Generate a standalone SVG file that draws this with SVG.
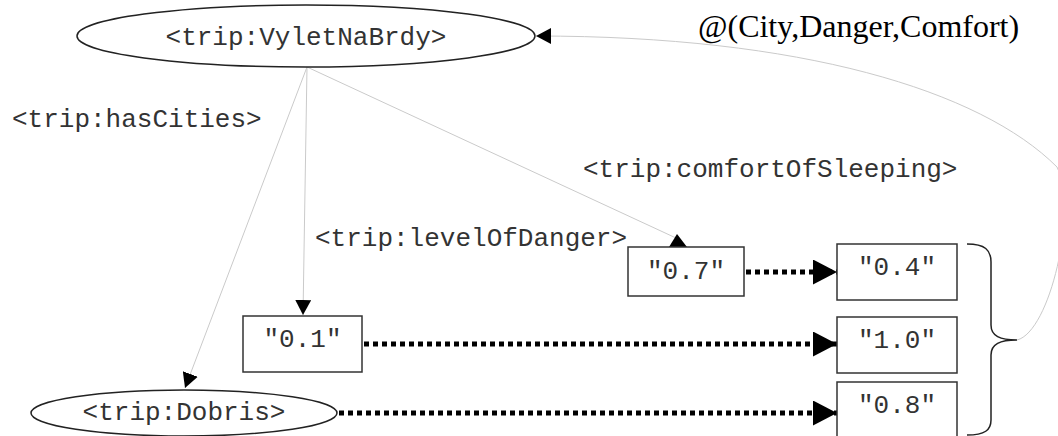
<svg xmlns="http://www.w3.org/2000/svg" width="1058" height="436" viewBox="0 0 1058 436">
<style>
  .mono { font-family: "Liberation Mono", "Courier New", monospace; font-size: 26px; fill: #333; }
  .node { fill: #fff; stroke: #222; stroke-width: 1.5; }
  .box { fill: #fff; stroke: #333; stroke-width: 1.5; }
  .edge { fill: none; stroke: #cacaca; stroke-width: 1; }
  .dot { fill: none; stroke: #000; stroke-width: 5; stroke-dasharray: 5 4; }
  .times { font-family: "Liberation Serif", "Times New Roman", serif; font-size: 32px; fill: #000; }
</style>
<defs>
  <marker id="ah" markerUnits="userSpaceOnUse" markerWidth="16" markerHeight="16" refX="15" refY="8" orient="auto" viewBox="0 0 16 16">
    <path d="M0,0 L15,8 L0,16 z" fill="#000"/>
  </marker>
  <marker id="big" markerUnits="userSpaceOnUse" markerWidth="25" markerHeight="26" refX="24" refY="12.5" orient="auto" viewBox="0 0 25 26">
    <path d="M0,0 L24,12.5 L0,25 z" fill="#000"/>
  </marker>
</defs>
<rect width="1058" height="436" fill="#fff"/>

<g id="connectors">
  <line class="edge" x1="307" y1="67" x2="303" y2="315" marker-end="url(#ah)"/>
  <line class="edge" x1="307" y1="67" x2="185" y2="388" marker-end="url(#ah)"/>
  <line class="edge" x1="307" y1="67" x2="676" y2="238"/>
  <polygon points="669,247 687,247 677,234" fill="#000"/>
  <path class="edge" d="M1017,340 C1050,332 1078,210 1057,167 C980,90 800,36 536,36" stroke="#999" marker-end="url(#ah)"/>
  <line class="dot" x1="746" y1="272" x2="837" y2="272" marker-end="url(#big)"/>
  <line class="dot" x1="364" y1="344" x2="837" y2="344" marker-end="url(#big)"/>
  <line class="dot" x1="339" y1="413" x2="837" y2="413" marker-end="url(#big)"/>
  <path d="M967,244 C985,244 991,250 991,262 L991,325 C991,336 1000,340 1017,340 C1000,340 991,344 991,355 L991,420 C991,430 985,435 967,435" fill="none" stroke="#222" stroke-width="1.5"/>
</g>

<g id="n-vylet">
  <ellipse class="node" cx="306" cy="36" rx="229" ry="31"/>
  <text class="mono" x="306" y="45" text-anchor="middle">&lt;trip:VyletNaBrdy&gt;</text>
</g>
<g id="n-dobris">
  <ellipse class="node" cx="184" cy="413" rx="153" ry="23"/>
  <text class="mono" x="184" y="420" text-anchor="middle">&lt;trip:Dobris&gt;</text>
</g>
<g id="n-01">
  <rect class="box" x="243" y="316" width="119" height="56"/>
  <text class="mono" x="302.5" y="347" text-anchor="middle">"0.1"</text>
</g>
<g id="n-07">
  <rect class="box" x="628" y="247" width="116" height="49"/>
  <text class="mono" x="686" y="279" text-anchor="middle">"0.7"</text>
</g>
<g id="n-04">
  <rect class="box" x="837" y="244" width="120" height="56"/>
  <text class="mono" x="897" y="275" text-anchor="middle">"0.4"</text>
</g>
<g id="n-10">
  <rect class="box" x="837" y="317" width="120" height="56"/>
  <text class="mono" x="897" y="348" text-anchor="middle">"1.0"</text>
</g>
<g id="n-08">
  <rect class="box" x="837" y="382" width="120" height="56"/>
  <text class="mono" x="897" y="413" text-anchor="middle">"0.8"</text>
</g>

<g id="labels">
  <text class="mono" x="12" y="127">&lt;trip:hasCities&gt;</text>
  <text class="mono" x="315" y="246">&lt;trip:levelOfDanger&gt;</text>
  <text class="mono" x="583" y="177">&lt;trip:comfortOfSleeping&gt;</text>
  <text class="times" x="698" y="37">@(City,Danger,Comfort)</text>
</g>
</svg>
